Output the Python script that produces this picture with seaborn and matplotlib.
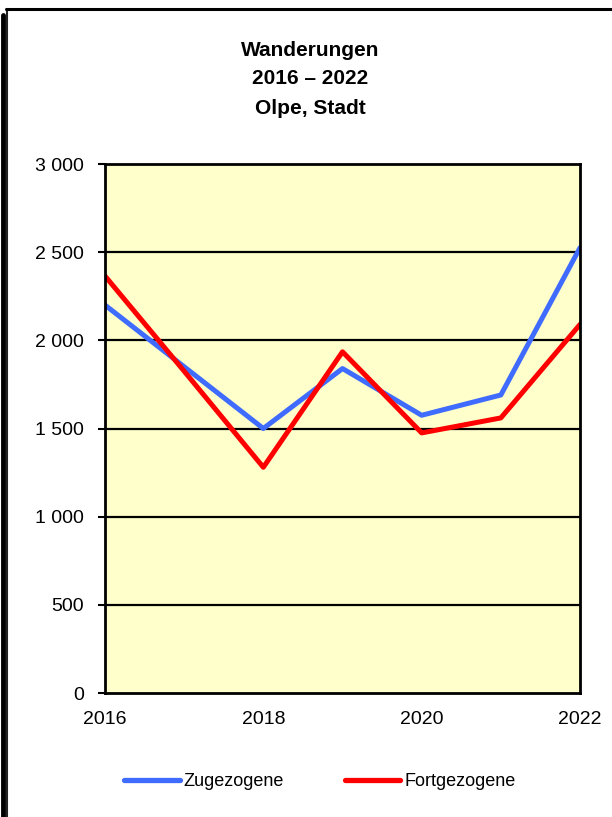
import matplotlib
matplotlib.use("Agg")
import matplotlib.pyplot as plt
import seaborn as sns
import pandas as pd
from matplotlib.lines import Line2D
from matplotlib.ticker import FuncFormatter, MultipleLocator

years = [2016, 2017, 2018, 2019, 2020, 2021, 2022]
zugezogene = [2200, 1850, 1500, 1840, 1575, 1690, 2525]
fortgezogene = [2365, 1825, 1280, 1935, 1475, 1560, 2090]
title_lines = ["Wanderungen", "2016 \u2013 2022", "Olpe, Stadt"]
series_names = ["Zugezogene", "Fortgezogene"]
colors = {"Zugezogene": "#3F6BFF", "Fortgezogene": "#FF0000"}

df = pd.DataFrame({
    "Jahr": years * 2,
    "Wert": zugezogene + fortgezogene,
    "Serie": [series_names[0]] * len(years) + [series_names[1]] * len(years),
})

sns.set_style("white")
plt.rcParams["font.family"] = ["Liberation Sans", "DejaVu Sans"]
plt.rcParams["text.color"] = "black"
plt.rcParams["axes.labelcolor"] = "black"
plt.rcParams["xtick.color"] = "black"
plt.rcParams["ytick.color"] = "black"

fig = plt.figure(figsize=(6.12, 8.17), dpi=100)
ax = fig.add_axes([105 / 612, 1 - 693 / 817, 475 / 612, 529 / 817])
ax.set_facecolor("#FFFFCC")

for y in range(500, 3000, 500):
    ax.axhline(y, color="black", lw=1.6, zorder=1)

sns.lineplot(data=df, x="Jahr", y="Wert", hue="Serie", palette=colors,
             linewidth=3.6, ax=ax, legend=False, zorder=3)

ax.set_xlim(2016, 2022)
ax.set_ylim(0, 3000)
ax.yaxis.set_major_locator(MultipleLocator(500))
ax.yaxis.set_major_formatter(FuncFormatter(lambda v, p: f"{int(v):,}".replace(",", " ")))
ax.set_xticks(years[::2])
ax.set_xticklabels([str(y) for y in years[::2]])
ax.tick_params(axis="y", which="major", labelsize=14, length=5, width=1.5,
               colors="black", direction="out", pad=10, left=True)
ax.tick_params(axis="x", which="major", labelsize=14, length=0, pad=13, bottom=True,
               colors="black")
ax.set_xlabel("")
ax.set_ylabel("")
for s in ax.spines.values():
    s.set_color("black")
    s.set_linewidth(2.0)
    s.set_zorder(4)

for i, yy in enumerate([50, 79, 108]):
    fig.text(310 / 612, 1 - yy / 817, title_lines[i], ha="center", va="center",
             fontsize=15, fontweight="bold", color="black")

handles = [Line2D([0], [0], color=colors[n], lw=3.8, solid_capstyle="round") for n in series_names]
leg = fig.legend(handles, series_names, loc="center", bbox_to_anchor=(320 / 612, 1 - 782 / 817),
                 ncol=2, frameon=False, fontsize=13, handlelength=3.05, handletextpad=0.22,
                 columnspacing=3.4)
for t in leg.get_texts():
    t.set_color("black")

# outer frame
fig.add_artist(Line2D([2.5 / 612, 2.5 / 612], [0, 1 - 15 / 817], transform=fig.transFigure,
                      color="black", lw=3.5))
fig.add_artist(Line2D([6.5 / 612, 6.5 / 612], [0, 1 - 9 / 817], transform=fig.transFigure,
                      color="#222222", lw=1.5))
fig.add_artist(Line2D([6 / 612, 1], [1 - 9 / 817, 1 - 9 / 817], transform=fig.transFigure,
                      color="black", lw=2.2))

fig.savefig("out.png", dpi=100)
